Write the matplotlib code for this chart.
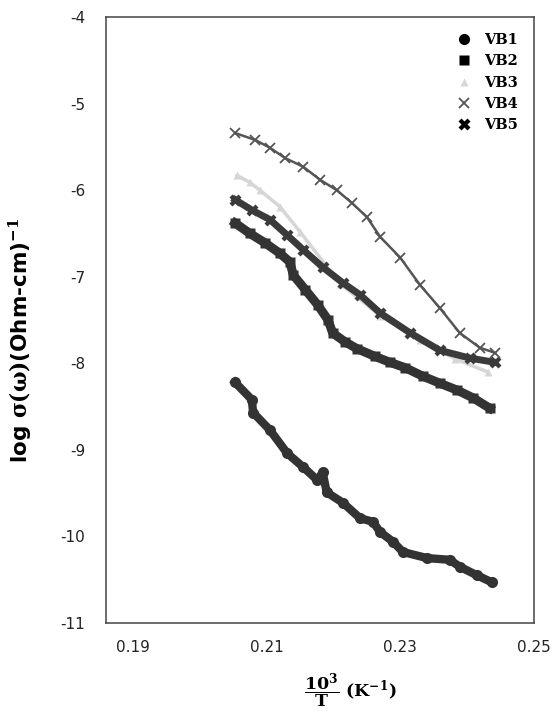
import matplotlib
matplotlib.use("Agg")
import matplotlib.pyplot as plt
from matplotlib.lines import Line2D

plt.rcParams['axes.unicode_minus'] = False
plt.rcParams['mathtext.fontset'] = 'dejavuserif'

# values
vb1_x = [0.2053, 0.2078, 0.2080, 0.2105, 0.2131, 0.2155, 0.2176, 0.2184, 0.2190, 0.2214,
         0.2240, 0.2259, 0.2270, 0.2289, 0.2304, 0.2340, 0.2374, 0.2389, 0.2415, 0.2437]
vb1_y = [-8.22, -8.42, -8.57, -8.77, -9.04, -9.20, -9.35, -9.26, -9.49, -9.61,
         -9.79, -9.83, -9.95, -10.06, -10.18, -10.25, -10.27, -10.35, -10.45, -10.53]

vb2_x = [0.2053, 0.2075, 0.2098, 0.2120, 0.2135, 0.2140, 0.2158, 0.2177, 0.2192, 0.2199,
         0.2217, 0.2235, 0.2262, 0.2285, 0.2307, 0.2334, 0.2359, 0.2385, 0.2409, 0.2434]
vb2_y = [-6.38, -6.50, -6.61, -6.73, -6.83, -6.98, -7.15, -7.33, -7.50, -7.65,
         -7.75, -7.83, -7.92, -7.99, -8.05, -8.15, -8.23, -8.31, -8.40, -8.52]

vb3_x = [0.2056, 0.2075, 0.2090, 0.2120, 0.2150, 0.2210, 0.2270, 0.2330, 0.2382, 0.2431]
vb3_y = [-5.83, -5.91, -6.00, -6.19, -6.48, -7.08, -7.45, -7.73, -7.95, -8.10]

vb4_x = [0.2053, 0.2083, 0.2105, 0.2128, 0.2155, 0.2180, 0.2205, 0.2228, 0.2250, 0.2270,
         0.2300, 0.2330, 0.2359, 0.2389, 0.2419, 0.2442]
vb4_y = [-5.34, -5.42, -5.51, -5.63, -5.73, -5.88, -6.00, -6.15, -6.31, -6.54,
         -6.78, -7.10, -7.36, -7.65, -7.82, -7.88]

vb5_x = [0.2053, 0.2078, 0.2105, 0.2131, 0.2155, 0.2184, 0.2214, 0.2240, 0.2270, 0.2315,
         0.2359, 0.2404, 0.2442]
vb5_y = [-6.11, -6.23, -6.34, -6.52, -6.69, -6.89, -7.07, -7.21, -7.42, -7.65,
         -7.85, -7.94, -7.99]

xticks = [0.19, 0.21, 0.23, 0.25]
yticks = [-11, -10, -9, -8, -7, -6, -5, -4]

fig = plt.figure(figsize=(5.56, 7.13), dpi=100)
ax = fig.add_axes([106/556, 1-623/713, 428/556, 606/713])

ax.plot(vb3_x, vb3_y, color='#d6d6d6', lw=2.5, marker='^', ms=6, mec='none', label='VB3')
ax.plot(vb1_x, vb1_y, color='#333333', lw=6, marker='o', ms=8, mec='none', label='VB1')
ax.plot(vb2_x, vb2_y, color='#333333', lw=6.5, marker='s', ms=7.5, mec='none', label='VB2')
ax.plot(vb5_x, vb5_y, color='#3a3a3a', lw=5, marker='X', ms=9, mec='none', label='VB5')
ax.plot(vb4_x, vb4_y, color='#555555', lw=1.8, marker='x', ms=7, mew=1.3, label='VB4')

ax.set_xlim(0.186, 0.25)
ax.set_ylim(-11, -4)
ax.set_xticks(xticks)
ax.set_xticklabels([f'{v:.2f}' for v in xticks])
ax.set_yticks(yticks)
ax.set_yticklabels([str(v) for v in yticks])
ax.tick_params(length=0, labelsize=11, colors='#222222')
ax.tick_params(axis='y', pad=15)
ax.tick_params(axis='x', pad=12)
for s in ax.spines.values():
    s.set_color('#444444')
    s.set_linewidth(1.1)

ax.set_ylabel(r'log $\mathbf{\sigma(\omega)}$(Ohm-cm)$^{\mathbf{-1}}$', fontsize=15.5,
              fontweight='bold')
ax.yaxis.set_label_coords(-0.168, 0.467)
ax.set_xlabel(r'$\mathbf{\dfrac{10^3}{T}}$ (K$^{\mathbf{-1}}$)', fontsize=12.5,
              fontweight='bold', family='DejaVu Serif')
ax.xaxis.set_label_coords(0.57, -0.112)
ax.xaxis.label.set_va('center')

handles, labels = ax.get_legend_handles_labels()
order = [labels.index(n) for n in ['VB1', 'VB2', 'VB3', 'VB4', 'VB5']]
leg_h = []
for i in order:
    h = handles[i]
    leg_h.append(Line2D([], [], ls='none', marker=h.get_marker(), color=h.get_color(),
                        ms=h.get_markersize(), mec=h.get_mec(), mew=h.get_mew()))
leg_h[0].set_color('black')
leg_h[1].set_color('black')
leg_h[3].set_color('#222222')
leg_h[4].set_color('black')
ax.legend(leg_h, [labels[i] for i in order], loc='upper right', frameon=False,
          prop={'family': 'DejaVu Serif', 'weight': 'bold', 'size': 10.5},
          handletextpad=0.9, labelspacing=0.5, borderaxespad=0.7, handlelength=1.0)

plt.savefig('out.png', dpi=100)
